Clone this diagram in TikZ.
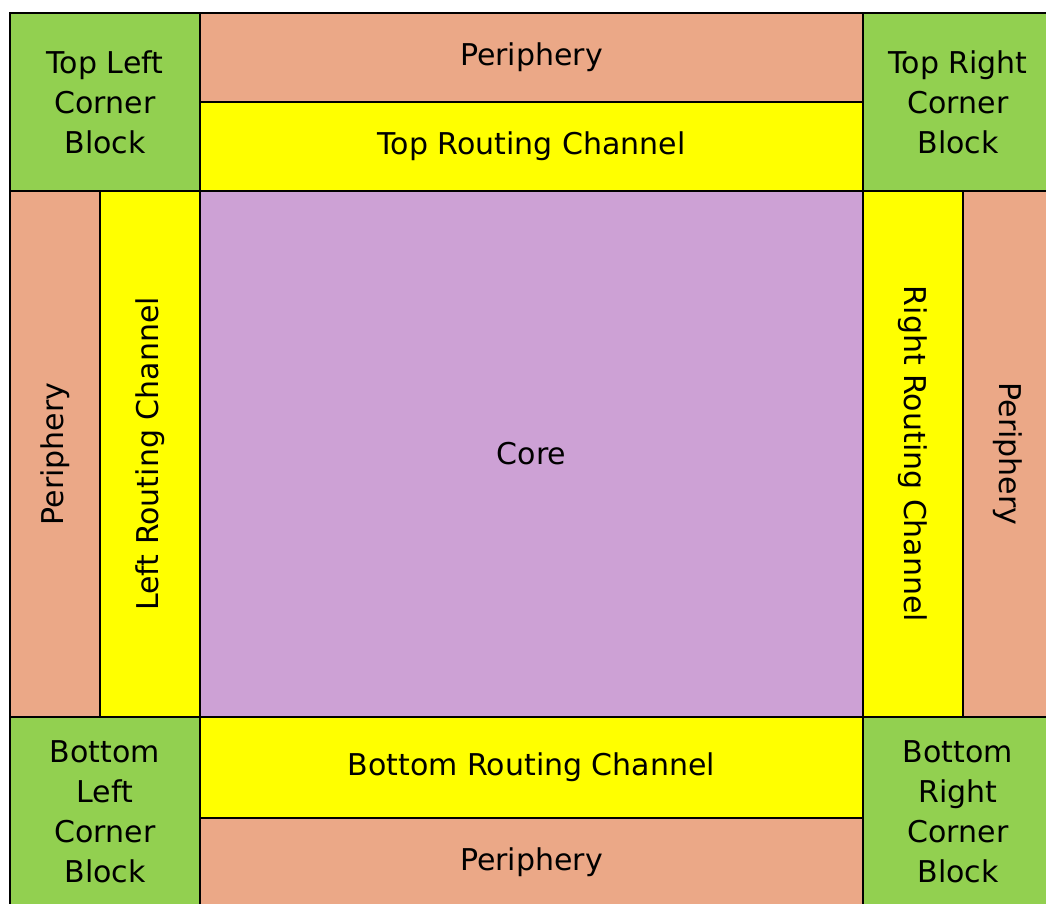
\documentclass[tikz,border=0pt]{standalone}
\usepackage{fontspec}
\setmainfont{DejaVu Sans}
\usepackage{tikz}
\definecolor{cornergreen}{HTML}{92D050}
\definecolor{periphsalmon}{HTML}{EBA887}
\definecolor{routeyellow}{HTML}{FFFF00}
\definecolor{corepurple}{HTML}{CDA1D5}
\tikzset{
    blocknode/.style = {draw, rectangle, line width=1.5pt, inner sep=0em, outer sep=0em,
      anchor=north west, align=center, font=\fontsize{30}{40}\selectfont},
    cornernode/.style = {blocknode, fill=cornergreen},
    periphnode/.style = {blocknode, fill=periphsalmon},
    channelnode/.style = {blocknode, fill=routeyellow},
    corenode/.style = {blocknode, fill=corepurple}
}

\begin{document}
\begin{tikzpicture}[x=1pt, y=-1pt]
    \useasboundingbox[fill=white] (0,0) rectangle (1046,903);
    \clip (0,0) rectangle (1046,903);

    % corner blocks
    \node [cornernode, name=TLCorner, minimum width=190pt, minimum height=178pt] at (10,13) {Top Left\\Corner\\Block};
    \node [cornernode, name=TRCorner, minimum width=190pt, minimum height=178pt] at (863,13) {Top Right\\Corner\\Block};
    \node [cornernode, name=BLCorner, minimum width=190pt, minimum height=190pt] at (10,717) {Bottom\\Left\\Corner\\Block};
    \node [cornernode, name=BRCorner, minimum width=190pt, minimum height=190pt] at (863,717) {Bottom\\Right\\Corner\\Block};

    % top and bottom rows
    \node [periphnode, name=TopPeriph, minimum width=663pt, minimum height=89pt] at (200,13) {Periphery};
    \node [channelnode, name=TopChannel, minimum width=663pt, minimum height=89pt] at (200,102) {Top Routing Channel};
    \node [channelnode, name=BotChannel, minimum width=663pt, minimum height=101pt] at (200,717) {Bottom Routing Channel};
    \node [periphnode, name=BotPeriph, minimum width=663pt, minimum height=89pt] at (200,818) {Periphery};

    % side columns
    \node [periphnode, name=LeftPeriph, minimum width=90pt, minimum height=526pt] at (10,191) {};
    \node [channelnode, name=LeftChannel, minimum width=100pt, minimum height=526pt] at (100,191) {};
    \node [channelnode, name=RightChannel, minimum width=100pt, minimum height=526pt] at (863,191) {};
    \node [periphnode, name=RightPeriph, minimum width=90pt, minimum height=526pt] at (963,191) {};
    \node [blocknode, draw=none, rotate=90, anchor=center] at (LeftPeriph.center) {Periphery};
    \node [blocknode, draw=none, rotate=90, anchor=center] at (LeftChannel.center) {Left Routing Channel};
    \node [blocknode, draw=none, rotate=-90, anchor=center] at (RightChannel.center) {Right Routing Channel};
    \node [blocknode, draw=none, rotate=-90, anchor=center] at (RightPeriph.center) {Periphery};

    \node [corenode, name=Core, minimum width=663pt, minimum height=526pt] at (200,191) {Core};
\end{tikzpicture}
\end{document}
